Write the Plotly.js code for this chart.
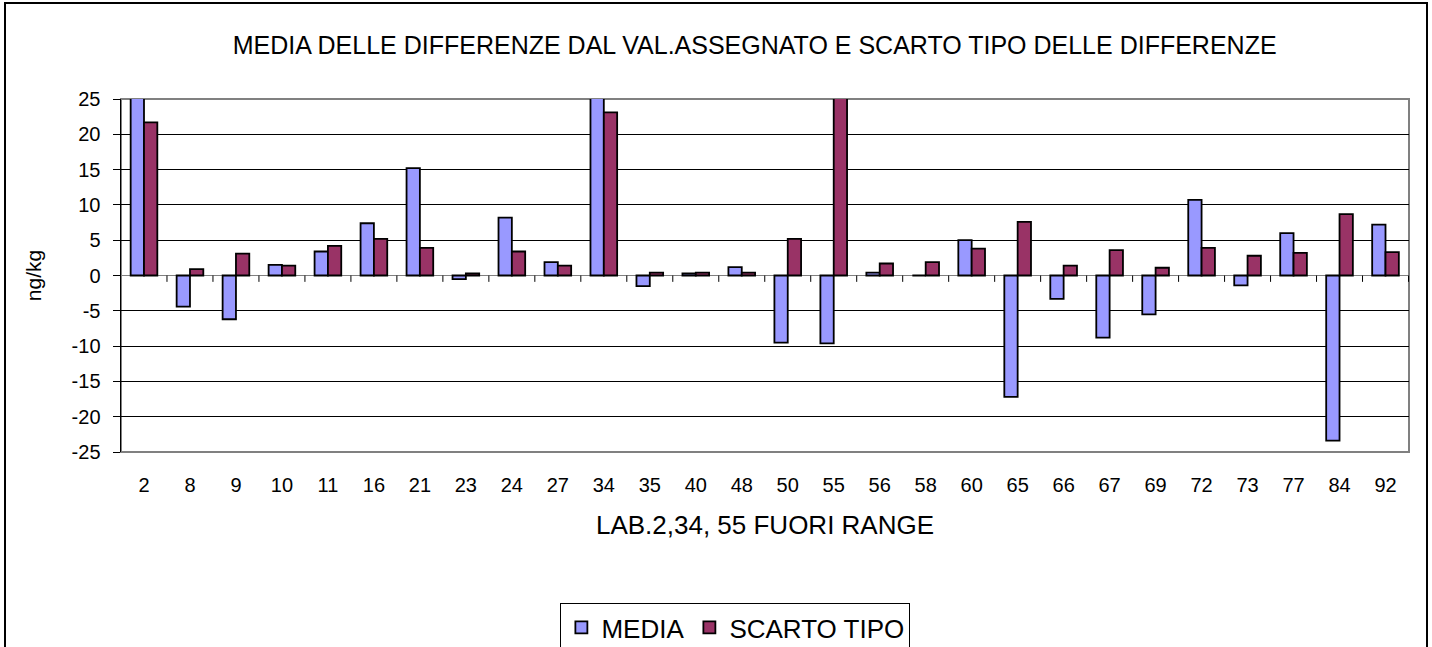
<!DOCTYPE html>
<html>
<head>
<meta charset="utf-8">
<script src="https://cdn.plot.ly/plotly-3.0.1.min.js"></script>
<style>
  body { margin: 0; background: #fff; }
  #wrap { position: relative; width: 1432px; height: 647px; }
  #plot { width: 1432px; height: 647px; }
  #frame { position: absolute; left: 4px; top: 2px; width: 1420px; height: 643px;
           border: 2px solid #000; pointer-events: none; }
</style>
</head>
<body>
<div id="wrap">
  <div id="plot"></div>
  <div id="frame"></div>
</div>
<script>
// laboratories (x categories)
let labs = ['2', '8', '9', '10', '11', '16', '21', '23', '24', '27', '34', '35', '40', '48',
            '50', '55', '56', '58', '60', '65', '66', '67', '69', '72', '73', '77', '84', '92']

// MEDIA (mean difference from assigned value) - labs 2 and 34 are off scale
let media = [40, -4.4, -6.2, 1.5, 3.4, 7.4, 15.2, -0.5, 8.2, 1.9, 45, -1.5, 0.3, 1.2,
             -9.5, -9.6, 0.4, 0, 5.0, -17.2, -3.3, -8.8, -5.5, 10.7, -1.4, 6.0, -23.4, 7.2]

// SCARTO TIPO (standard deviation of the differences) - lab 55 is off scale
let scarto = [21.7, 0.9, 3.1, 1.4, 4.2, 5.2, 3.9, 0.3, 3.4, 1.4, 23.1, 0.4, 0.4, 0.4,
              5.2, 38, 1.7, 1.9, 3.8, 7.6, 1.4, 3.6, 1.1, 3.9, 2.8, 3.2, 8.7, 3.3]

let yTicks = [-25, -20, -15, -10, -5, 0, 5, 10, 15, 20, 25]
// plain hyphen for negatives, like the original
let yTickText = yTicks.map(v => String(v))

let font = 'Arial, "Liberation Sans", sans-serif'

let mediaTrace = {
    x: labs,
    y: media,
    type: 'bar',
    name: 'MEDIA',
    marker: { color: '#9999FF', line: { color: '#000', width: 1.8 } }
}

let scartoTrace = {
    x: labs,
    y: scarto,
    type: 'bar',
    name: 'SCARTO TIPO',
    marker: { color: '#993366', line: { color: '#000', width: 1.8 } }
}

// small tick marks on the zero line between categories
let shapes = []
for (let i = 0; i < labs.length; i++) {
    shapes.push({
        type: 'line', xref: 'x', yref: 'y',
        x0: i + 0.5, x1: i + 0.5, y0: 0, y1: -0.9,
        line: { color: '#000', width: 1 }
    })
}
// grey plot-area border
shapes.push({
    type: 'rect', xref: 'paper', yref: 'paper', x0: 0, x1: 1, y0: 0, y1: 1,
    line: { color: '#808080', width: 2 }, layer: 'below'
})

let layout = {
    width: 1432,
    height: 647,
    margin: { l: 121, r: 23, t: 99, b: 195 },
    paper_bgcolor: '#fff',
    plot_bgcolor: '#fff',
    font: { family: font, color: '#000' },
    title: {
        text: 'MEDIA DELLE DIFFERENZE DAL VAL.ASSEGNATO E SCARTO TIPO DELLE DIFFERENZE',
        font: { size: 25, family: font, color: '#000' },
        xref: 'paper', x: 0.492, xanchor: 'center',
        yref: 'container', y: 0.93, yanchor: 'middle'
    },
    barmode: 'group',
    bargap: 0.42,
    bargroupgap: 0,
    xaxis: {
        type: 'category',
        ticks: '',
        showgrid: false,
        showline: false,
        tickfont: { size: 20 },
        ticklabelstandoff: 19,
        automargin: false,
        title: { text: 'LAB.2,34, 55 FUORI RANGE', font: { size: 26 }, standoff: 20 }
    },
    yaxis: {
        range: [-25, 25],
        tickvals: yTicks,
        ticktext: yTickText,
        ticks: 'outside',
        ticklen: 7,
        tickcolor: '#000',
        showline: true,
        linecolor: '#000',
        linewidth: 1.5,
        showgrid: true,
        gridcolor: '#000',
        gridwidth: 1,
        zeroline: true,
        zerolinecolor: '#808080',
        zerolinewidth: 1,
        tickfont: { size: 20 },
        ticklabelstandoff: 8,
        automargin: false,
        title: { text: 'ng/kg', font: { size: 21 }, standoff: 24 }
    },
    shapes: shapes,
    legend: {
        orientation: 'h',
        xref: 'paper', x: 0.477, xanchor: 'center',
        yref: 'container', y: 1 - 603 / 647, yanchor: 'top',
        bordercolor: '#000',
        borderwidth: 1,
        bgcolor: '#fff',
        font: { size: 26 }
    },
    showlegend: true
}

Plotly.newPlot('plot', [mediaTrace, scartoTrace], layout, { displayModeBar: false, staticPlot: true })
</script>
</body>
</html>
